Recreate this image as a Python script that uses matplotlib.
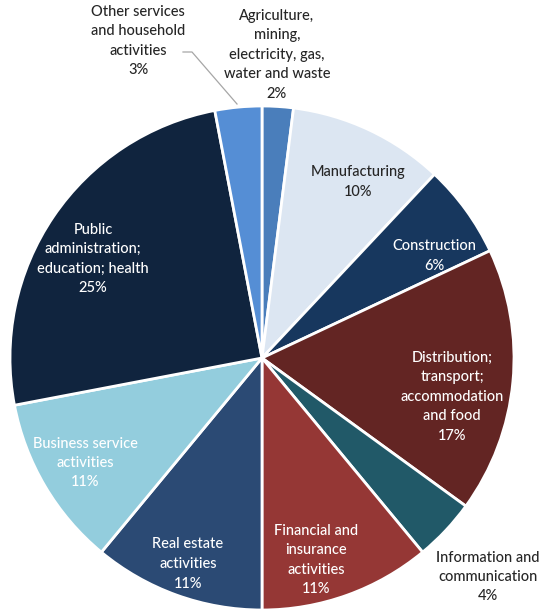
import matplotlib.pyplot as plt

plt.rcParams['font.family'] = ['Lato', 'DejaVu Sans']

sectors = ["Agriculture,\nmining,\nelectricity, gas,\nwater and waste",
           "Manufacturing",
           "Construction",
           "Distribution;\ntransport;\naccommodation\nand food",
           "Information and\ncommunication",
           "Financial and\ninsurance\nactivities",
           "Real estate\nactivities",
           "Business service\nactivities",
           "Public\nadministration;\neducation; health",
           "Other services\nand household\nactivities"]
shares = [2, 10, 6, 17, 4, 11, 11, 11, 25, 3]

colors = ['#4a7ebb', '#dce6f2', '#17375e', '#632523', '#215968',
          '#953735', '#2b4a74', '#93cddd', '#10243e', '#558ed5']
text_colors = ['#262626', '#262626', 'white', 'white', '#262626',
               'white', 'white', 'white', 'white', '#262626']
# label centres in pixels (x from left, y from top)
label_xy = [(277, 55), (358, 182), (434, 256), (452, 397), (488, 577),
            (316, 560), (188, 564), (85, 463), (93, 259), (138, 41)]

W, H = 543, 611
fig = plt.figure(figsize=(W / 100, H / 100), dpi=100)
ax = fig.add_axes([0, 0, 1, 1])

ax.pie(shares, colors=colors, startangle=90, counterclock=False,
       center=(262, H - 358), radius=252,
       wedgeprops=dict(edgecolor='white', linewidth=2))

# pie() sets its own limits, so fix the pixel frame afterwards
ax.set_xlim(0, W)
ax.set_ylim(0, H)
ax.set_aspect('equal')
ax.axis('off')

for name, val, (x, y), tc in zip(sectors, shares, label_xy, text_colors):
    ax.text(x, H - y, f"{name}\n{val}%", ha='center', va='center',
            color=tc, fontsize=10.5, fontweight='medium', linespacing=1.5)

# leader line for the small "other services" slice
ax.plot([183, 192, 237], [H - 52, H - 52, H - 104], color='#a6a6a6', lw=0.9)

fig.savefig('out.png', dpi=100)
